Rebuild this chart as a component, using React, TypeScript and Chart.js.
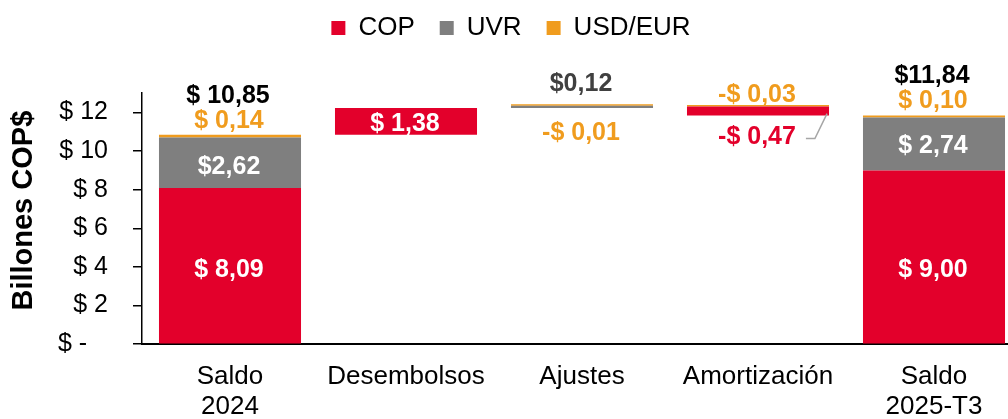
import React, { useEffect, useRef } from 'react';
import { Chart, registerables } from 'chart.js';

Chart.register(...registerables);

// ---- data ----
const categories: (string | string[])[] = [['Saldo', '2024'], 'Desembolsos', 'Ajustes', 'Amortización', ['Saldo', '2025-T3']];
const seriesNames = ['COP', 'UVR', 'USD/EUR'];
const copValues = [8.09, 1.38, 0, -0.47, 9.0];
const uvrValues = [2.62, 0, 0.12, 0, 2.74];
const usdValues = [0.14, 0, -0.01, -0.03, 0.1];
const isTotal = [true, false, false, false, true];
const totalLabels = ['$ 10,85', '', '', '', '$11,84'];
const copLabels = ['$ 8,09', '$ 1,38', '', '-$ 0,47', '$ 9,00'];
const uvrLabels = ['$2,62', '', '$0,12', '', '$ 2,74'];
const usdLabels = ['$ 0,14', '', '-$ 0,01', '-$ 0,03', '$ 0,10'];
const yTicks = [0, 2, 4, 6, 8, 10, 12];
const yMin = 0;
const yMax = 13;

// ---- styles ----
const FONT = '"Liberation Sans", Arial, Helvetica, sans-serif';
const RED = '#E3002B';
const GRAY = '#7F7F7F';
const ORANGE = '#F09C1E';
const DARK = '#404040';
const WHITE = '#FFFFFF';
const BLACK = '#000000';

type Place = { pos: 'inside' | 'above' | 'below'; dy: number; color: string; leader?: boolean } | null;
const placements: Place[][] = [
  [
    { pos: 'inside', dy: 4, color: WHITE },
    { pos: 'inside', dy: 3, color: WHITE },
    null,
    { pos: 'below', dy: 22, color: RED, leader: true },
    { pos: 'inside', dy: 13, color: WHITE },
  ],
  [
    { pos: 'inside', dy: 4, color: WHITE },
    null,
    { pos: 'above', dy: 20, color: DARK },
    null,
    { pos: 'inside', dy: 2, color: WHITE },
  ],
  [
    { pos: 'above', dy: 14, color: ORANGE },
    null,
    { pos: 'below', dy: 25, color: ORANGE },
    { pos: 'above', dy: 10, color: ORANGE },
    { pos: 'above', dy: 14, color: ORANGE },
  ],
];
const totalOffset = 39;

function buildRanges() {
  const series = [copValues, uvrValues, usdValues];
  const ranges: ([number, number] | null)[][] = series.map(() => []);
  let level = 0;
  categories.forEach((_, i) => {
    const sum = series.reduce((s, arr) => s + arr[i], 0);
    const base = isTotal[i] ? 0 : Math.min(level, level + sum);
    let cur = base;
    series.forEach((arr, k) => {
      const v = Math.abs(arr[i]);
      if (v === 0) {
        ranges[k].push(null);
        return;
      }
      ranges[k].push([cur, cur + v]);
      cur += v;
    });
    level = isTotal[i] ? sum : level + sum;
  });
  return ranges;
}

const labelPlugin = {
  id: 'valueLabels',
  afterDatasetsDraw(chart: any) {
    const ctx = chart.ctx as CanvasRenderingContext2D;
    const seriesLabels = [copLabels, uvrLabels, usdLabels];
    ctx.save();
    ctx.font = `bold 25px ${FONT}`;
    ctx.textAlign = 'center';
    ctx.textBaseline = 'middle';

    const extents = categories.map((_, i) => {
      let top = Infinity;
      let bottom = -Infinity;
      let x = 0;
      let width = 0;
      seriesLabels.forEach((__, k) => {
        const el = chart.getDatasetMeta(k).data[i];
        const ds = chart.data.datasets[k].data[i];
        if (!el || ds == null) return;
        const p = el.getProps(['x', 'y', 'base', 'width'], true);
        top = Math.min(top, p.y, p.base);
        bottom = Math.max(bottom, p.y, p.base);
        x = p.x;
        width = p.width;
      });
      return { top, bottom, x, width };
    });

    seriesLabels.forEach((labels, k) => {
      const meta = chart.getDatasetMeta(k);
      labels.forEach((text, i) => {
        const pl = placements[k][i];
        if (!text || !pl) return;
        const el = meta.data[i];
        if (!el) return;
        const p = el.getProps(['x', 'y', 'base', 'width'], true);
        const ext = extents[i];
        let ty: number;
        if (pl.pos === 'inside') ty = (p.y + p.base) / 2 + pl.dy;
        else if (pl.pos === 'above') ty = ext.top - pl.dy;
        else ty = ext.bottom + pl.dy;
        ctx.fillStyle = pl.color;
        ctx.fillText(text, p.x - 1, ty);
        if (pl.leader) {
          const w = ctx.measureText(text).width;
          const sx = p.x - 1 + w / 2 + 10;
          ctx.strokeStyle = '#A6A6A6';
          ctx.lineWidth = 1.5;
          ctx.beginPath();
          ctx.moveTo(sx, ty + 1);
          ctx.lineTo(sx + 9, ty + 1);
          ctx.lineTo(ext.x + ext.width / 2 - 2, ext.bottom - 2);
          ctx.stroke();
        }
      });
    });

    totalLabels.forEach((text, i) => {
      if (!text) return;
      const ext = extents[i];
      ctx.fillStyle = BLACK;
      ctx.fillText(text, ext.x - 2, ext.top - totalOffset);
    });
    ctx.restore();
  },
};

export default function App() {
  const canvasRef = useRef<HTMLCanvasElement | null>(null);

  useEffect(() => {
    document.body.style.margin = '0';
    document.body.style.overflow = 'hidden';
    const canvas = canvasRef.current;
    if (!canvas) return;
    const ranges = buildRanges();
    const colors = [RED, GRAY, ORANGE];
    const chart = new Chart(canvas, {
      type: 'bar',
      data: {
        labels: categories as any,
        datasets: seriesNames.map((name, k) => ({
          label: name,
          data: ranges[k] as any,
          backgroundColor: colors[k],
          borderWidth: 0,
          barPercentage: 0.807,
          categoryPercentage: 1,
          minBarLength: k === 2 ? 1.5 : 0,
        })),
      },
      options: {
        animation: false,
        responsive: true,
        maintainAspectRatio: false,
        layout: { padding: { top: -10, right: 8, left: 0, bottom: -21 } },
        plugins: {
          legend: {
            position: 'top',
            weight: 3000,
            labels: {
              boxWidth: 14,
              boxHeight: 14,
              padding: 25,
              color: BLACK,
              font: { size: 26, family: FONT },
            },
          } as any,
          title: {
            display: true,
            text: '',
            padding: { top: 0, bottom: 41 },
            font: { size: 1 },
          },
          tooltip: { enabled: false },
        },
        scales: {
          x: {
            stacked: true,
            grid: { display: true, drawOnChartArea: false, drawTicks: false },
            border: { display: true, color: BLACK, width: 2 },
            ticks: {
              color: BLACK,
              font: { size: 26, family: FONT, lineHeight: 1.15 },
              padding: 18,
              maxRotation: 0,
              autoSkip: false,
            },
          },
          y: {
            stacked: false,
            min: yMin,
            max: yMax,
            afterBuildTicks: (s: any) => {
              s.ticks = yTicks.map((v) => ({ value: v }));
            },
            afterFit: (s: any) => {
              s.width = 142;
            },
            grid: { drawOnChartArea: false, drawTicks: true, tickLength: 9, color: BLACK, lineWidth: 1.5 },
            border: { display: true, color: BLACK, width: 1.5 },
            ticks: {
              padding: 25,
              color: BLACK,
              font: { size: 25, family: FONT },
              callback: (v: any) => (Number(v) === 0 ? '$ -   ' : '$ ' + v),
            },
            title: {
              display: true,
              text: '  Billones COP$',
              color: BLACK,
              font: { size: 29, weight: 'bold', family: FONT },
              padding: { top: 7, bottom: 0 },
            },
          },
        },
      },
      plugins: [labelPlugin],
    });
    return () => chart.destroy();
  }, []);

  return (
    <div style={{ width: 1008, height: 419, overflow: 'hidden', position: 'relative' }}>
      <div style={{ width: 1030, height: 419, position: 'relative' }}>
        <canvas ref={canvasRef} />
      </div>
    </div>
  );
}
